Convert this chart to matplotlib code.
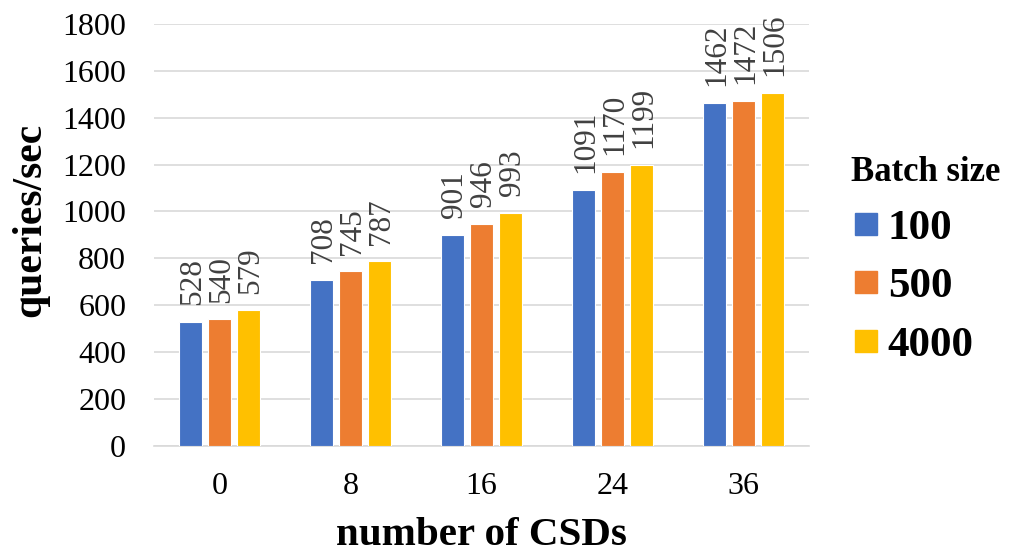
"""Grouped bar chart of query throughput versus number of CSDs."""

import matplotlib.pyplot as plt
import numpy as np
from matplotlib.lines import Line2D

CSD_COUNTS = ["0", "8", "16", "24", "36"]
BATCH_SIZES = ["100", "500", "4000"]
THROUGHPUT_100 = [528, 708, 901, 1091, 1462]
THROUGHPUT_500 = [540, 745, 946, 1170, 1472]
THROUGHPUT_4000 = [579, 787, 993, 1199, 1506]
Y_TICKS = list(range(0, 1801, 200))

COLORS = ["#4472C4", "#ED7D31", "#FFC000"]
SERIF = "Liberation Serif"


def main() -> None:
    series = [THROUGHPUT_100, THROUGHPUT_500, THROUGHPUT_4000]
    x = np.arange(len(CSD_COUNTS))
    width = 0.178
    pitch = 0.221

    fig = plt.figure(figsize=(10.11, 5.54), dpi=100)
    ax = fig.add_axes([0.1523, 0.195, 0.648, 0.762])

    for i, (values, color) in enumerate(zip(series, COLORS)):
        positions = x + (i - 1) * pitch
        bars = ax.bar(positions, values, width=width, color=color,
                      edgecolor="white", linewidth=0.8, zorder=3)
        for bar, value in zip(bars, values):
            ax.annotate(str(value),
                        (bar.get_x() + bar.get_width() / 2, bar.get_height()),
                        xytext=(1.5, 12), textcoords="offset points",
                        rotation=90, ha="center", va="bottom",
                        fontsize=22.5, family=SERIF, color="#404040")

    ax.set_xlim(-0.5, len(CSD_COUNTS) - 0.5)
    ax.set_ylim(0, 1800)
    ax.set_xticks(x, CSD_COUNTS)
    ax.set_yticks(Y_TICKS)
    ax.tick_params(axis="both", length=0, labelsize=23, colors="black")
    ax.tick_params(axis="y", pad=20)
    ax.tick_params(axis="x", pad=19)
    for label in ax.get_xticklabels() + ax.get_yticklabels():
        label.set_family(SERIF)

    ax.grid(axis="y", color="#D9D9D9", linewidth=1.2, zorder=0)
    for side in ("left", "right", "top"):
        ax.spines[side].set_visible(False)
    ax.spines["bottom"].set_color("#D9D9D9")
    ax.spines["bottom"].set_linewidth(1.2)

    ax.set_xlabel("number of CSDs", family=SERIF, fontsize=29.5,
                  fontweight="bold", labelpad=11)
    ax.set_ylabel("queries/sec", family=SERIF, fontsize=30,
                  fontweight="bold")
    ax.yaxis.set_label_coords(-0.16, 0.535)

    handles = [Line2D([], [], marker="s", linestyle="none", markersize=16,
                      markerfacecolor=c, markeredgecolor=c) for c in COLORS]
    legend = fig.legend(handles, BATCH_SIZES, title="Batch size",
                        loc="center left", bbox_to_anchor=(0.842, 0.53),
                        frameon=False, borderpad=0, borderaxespad=0,
                        handlelength=0.7, handletextpad=0.15,
                        labelspacing=0.45,
                        prop={"family": SERIF, "size": 31, "weight": "bold"},
                        title_fontproperties={"family": SERIF, "size": 25,
                                              "weight": "bold"})
    legend._legend_box.align = "left"

    fig.savefig("out.png", dpi=100)
    plt.close(fig)


if __name__ == "__main__":
    main()
